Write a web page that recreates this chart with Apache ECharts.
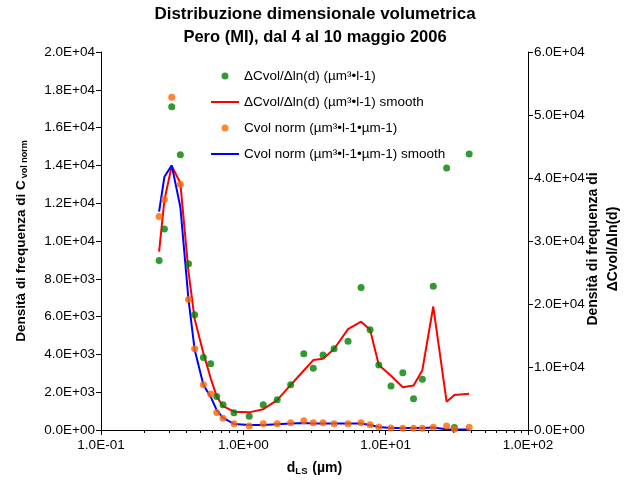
<!DOCTYPE html>
<html>
<head>
<meta charset="utf-8">
<script src="https://cdn.jsdelivr.net/npm/echarts@6/dist/echarts.min.js"></script>
<style>
html,body{margin:0;padding:0;background:#fff;}
#chart{width:630px;height:482px;}
</style>
</head>
<body>
<div id="chart"></div>
<script>
// ---- data ----
var titleLine1 = 'Distribuzione dimensionale volumetrica';
var titleLine2 = 'Pero (MI), dal 4 al 10 maggio 2006';
var seriesNames = [
  'ΔCvol/Δln(d) (µm³•l-1)',
  'ΔCvol/Δln(d) (µm³•l-1) smooth',
  'Cvol norm (µm³•l-1•µm-1)',
  'Cvol norm (µm³•l-1•µm-1) smooth'
];
var diameters = [0.256, 0.279, 0.314, 0.361, 0.412, 0.455, 0.524, 0.59, 0.65, 0.72, 0.86, 1.10, 1.38, 1.73, 2.15, 2.66, 3.10, 3.63, 4.34, 5.44, 6.72, 7.77, 8.95, 10.9, 13.2, 15.7, 18.1, 21.6, 26.8, 30.4, 38.6];
var dCvol = [26900, 31900, 51300, 43700, 26400, 18300, 11500, 10500, 5300, 4000, 2750, 2200, 4000, 4800, 7200, 12100, 9800, 11900, 12900, 14100, 22600, 15900, 10300, 7000, 9100, 4950, 8050, 22800, 41600, 400, 43800];
var dCvolSmooth = [28300, 36500, 41900, 39200, 25100, 17600, 12200, 8200, 5300, 3800, 2900, 2800, 3300, 4750, 7150, 9450, 11100, 11300, 12850, 16000, 17200, 15900, 10300, 8600, 6800, 7050, 9500, 19600, 4500, 5550, 5750];
var cvolNorm = [11300, 12200, 17600, 13000, 6900, 4300, 2400, 1900, 920, 620, 330, 210, 330, 330, 390, 490, 390, 390, 330, 330, 390, 280, 160, 110, 90, 90, 90, 140, 210, 40, 140];
var cvolNormSmooth = [11550, 13400, 14000, 11800, 6900, 4250, 2400, 1750, 1050, 640, 320, 260, 260, 310, 340, 370, 345, 345, 345, 345, 345, 265, 160, 105, 105, 105, 105, 130, 40, 25, 25];
var minorTicks = [0.2,0.3,0.4,0.5,0.6,0.7,0.8,0.9,2,3,4,5,6,7,8,9,20,30,40,50,60,70,80,90];

// ---- helpers ----
function pairs(xs, ys){ return xs.map(function(x,i){ return [x, ys[i]]; }); }
function sci(v){
  if (v === 0) return '0.0E+00';
  var e = Math.floor(Math.log10(Math.abs(v)) + 1e-9);
  var m = v / Math.pow(10, e);
  var s = m.toFixed(1);
  if (s === '10.0') { s = '1.0'; e += 1; }
  var es = String(Math.abs(e)); if (es.length < 2) es = '0' + es;
  return s + 'E' + (e < 0 ? '-' : '+') + es;
}

var FONT = 'Liberation Sans, Arial, sans-serif';
var GREEN = '#008000', RED = '#ff0000', ORANGE = '#ff6600', BLUE = '#0000ff';
var chart = echarts.init(document.getElementById('chart'), null, {renderer: 'canvas'});
var axisLine = {show: true, lineStyle: {color: '#000', width: 1}};
var noSymbol = {color: 'rgba(0,0,0,0)', borderWidth: 0, opacity: 0};

var option = {
  backgroundColor: '#fff',
  animation: false,
  textStyle: {fontFamily: FONT, color: '#000'},
  title: [
    {text: titleLine1, left: 'center', top: 6, padding: 0,
     textStyle: {fontFamily: FONT, fontSize: 17, fontWeight: 'bold', color: '#000'}},
    {text: titleLine2, left: 'center', top: 29, padding: 0,
     textStyle: {fontFamily: FONT, fontSize: 16.5, fontWeight: 'bold', color: '#000'}}
  ],
  legend: {
    orient: 'vertical', left: 210, top: 69, padding: 0,
    itemWidth: 28, itemHeight: 7, itemGap: 12,
    textStyle: {fontFamily: FONT, fontSize: 13.5, color: '#000', lineHeight: 14},
    data: [
      {name: seriesNames[0], icon: 'circle'},
      {name: seriesNames[1], itemStyle: noSymbol, lineStyle: {color: RED, width: 2}},
      {name: seriesNames[2], icon: 'circle'},
      {name: seriesNames[3], itemStyle: noSymbol, lineStyle: {color: BLUE, width: 2}}
    ]
  },
  grid: {left: 101, right: 102, top: 52, bottom: 52, containLabel: false, outerBoundsMode: 'none'},
  xAxis: [
    {
      type: 'log', logBase: 10, min: 0.1, max: 100,
      name: 'd{sub|LS} (µm)', nameLocation: 'middle', nameGap: 30, nameMoveOverlap: false,
      nameTextStyle: {fontFamily: FONT, fontSize: 14, fontWeight: 'bold', color: '#000',
        rich: {sub: {fontFamily: FONT, fontSize: 9.5, fontWeight: 'bold', color: '#000', verticalAlign: 'bottom', padding: [6,1,0,0]}}},
      axisLine: axisLine,
      axisTick: {show: true, inside: false, length: 5, lineStyle: {color: '#000'}},
      axisLabel: {fontFamily: FONT, fontSize: 13.5, color: '#000', margin: 8, formatter: function(v){ return sci(v); }},
      splitLine: {show: false}, minorTick: {show: false}, minorSplitLine: {show: false}
    },
    {
      type: 'log', logBase: 10, min: 0.1, max: 100, position: 'bottom',
      axisLine: {show: false},
      axisTick: {show: true, inside: false, length: 3, customValues: minorTicks, lineStyle: {color: '#000'}},
      axisLabel: {show: false},
      splitLine: {show: false}
    }
  ],
  yAxis: [
    {
      type: 'value', min: 0, max: 20000, interval: 2000, position: 'left',
      name: 'Densità di frequenza di C{sub|vol norm}', nameLocation: 'middle', nameRotate: 90, nameGap: 72, nameMoveOverlap: false,
      nameTextStyle: {fontFamily: FONT, fontSize: 13.5, fontWeight: 'bold', color: '#000',
        rich: {sub: {fontFamily: FONT, fontSize: 9, fontWeight: 'bold', color: '#000', verticalAlign: 'bottom', padding: [6,0,0,2]}}},
      axisLine: axisLine,
      axisTick: {show: true, inside: false, length: 5, lineStyle: {color: '#000'}},
      axisLabel: {fontFamily: FONT, fontSize: 13.5, color: '#000', margin: 6, formatter: function(v){ return sci(v); }},
      splitLine: {show: false}
    },
    {
      type: 'value', min: 0, max: 60000, interval: 10000, position: 'right',
      name: 'Densità di frequenza di\nΔCvol/Δln(d)', nameLocation: 'middle', nameRotate: 90, nameGap: 55, nameMoveOverlap: false,
      nameTextStyle: {fontFamily: FONT, fontSize: 14, fontWeight: 'bold', color: '#000', lineHeight: 20, align: 'center', padding: [0, 16, 0, 0]},
      axisLine: axisLine,
      axisTick: {show: true, inside: false, length: 5, lineStyle: {color: '#000'}},
      axisLabel: {fontFamily: FONT, fontSize: 13.5, color: '#000', margin: 6, formatter: function(v){ return sci(v); }},
      splitLine: {show: false}
    }
  ],
  series: [
    {
      name: seriesNames[0], type: 'scatter', xAxisIndex: 0, yAxisIndex: 1, z: 5,
      symbol: 'circle', symbolSize: 7,
      itemStyle: {color: GREEN},
      data: pairs(diameters, dCvol)
    },
    {
      name: seriesNames[1], type: 'line', xAxisIndex: 0, yAxisIndex: 1, z: 3,
      symbol: 'none', showSymbol: false,
      lineStyle: {color: RED, width: 2},
      itemStyle: {color: RED},
      data: pairs(diameters, dCvolSmooth)
    },
    {
      name: seriesNames[2], type: 'scatter', xAxisIndex: 0, yAxisIndex: 0, z: 5,
      symbol: 'circle', symbolSize: 7,
      itemStyle: {color: ORANGE},
      data: pairs(diameters, cvolNorm)
    },
    {
      name: seriesNames[3], type: 'line', xAxisIndex: 0, yAxisIndex: 0, z: 4,
      symbol: 'none', showSymbol: false,
      lineStyle: {color: BLUE, width: 2},
      itemStyle: {color: BLUE},
      data: pairs(diameters, cvolNormSmooth)
    }
  ]
};
chart.setOption(option);
</script>
</body>
</html>
